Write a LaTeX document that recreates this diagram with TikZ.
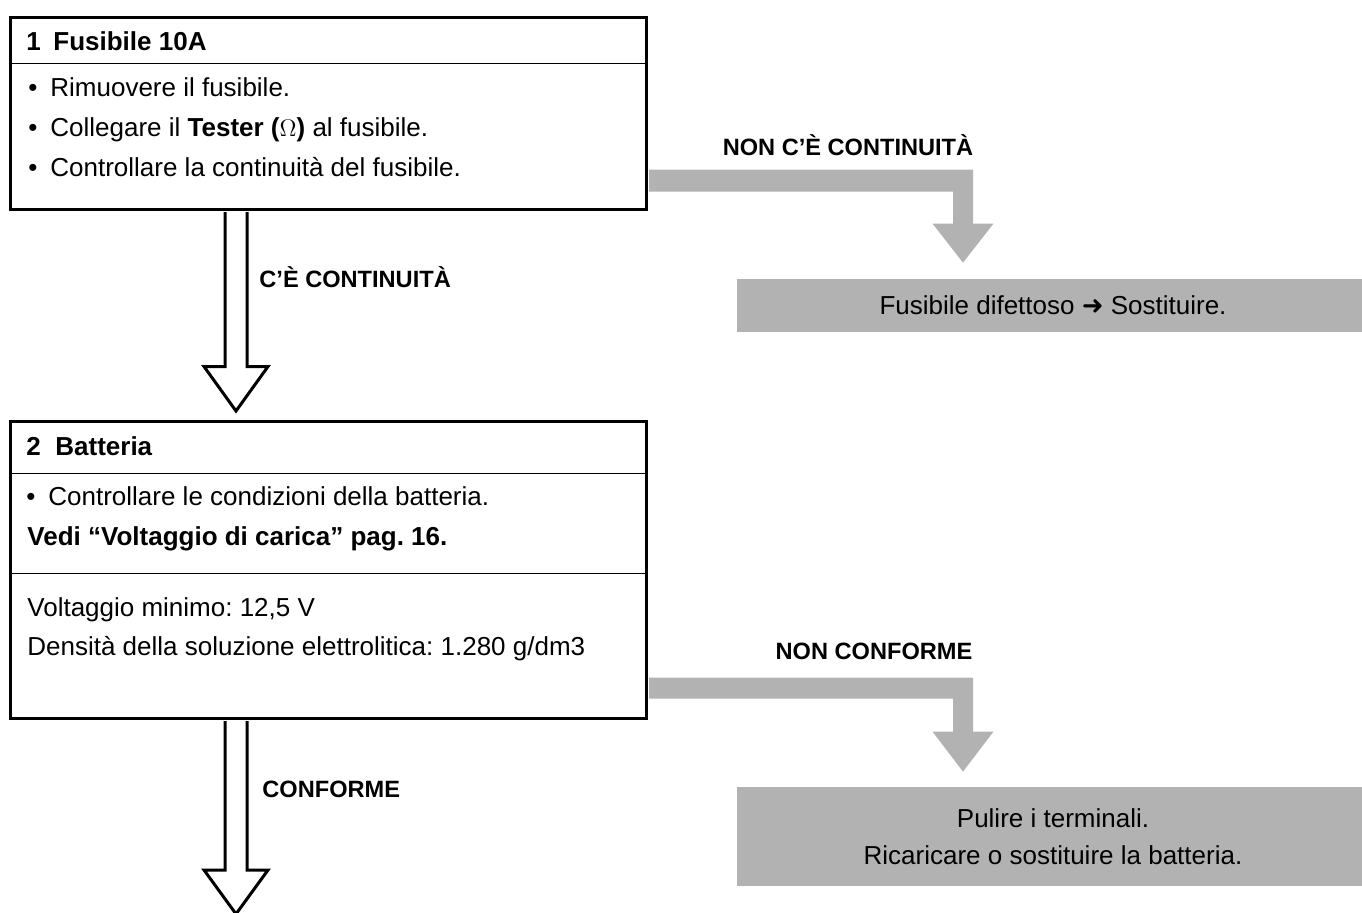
\documentclass[tikz,border=0pt]{standalone}
\usepackage{fontspec}
\setmainfont{Liberation Sans}
\newfontfamily\dingfont{DejaVu Sans}
\usetikzlibrary{calc}
\frenchspacing
\definecolor{grigio}{RGB}{178,178,178}
\newcommand\itm{\makebox[11pt][l]{•}}
\tikzset{box/.style={draw,line width=1.5pt,minimum width=318pt,inner sep=0pt},
  sep/.style={line width=0.6pt},
  txt/.style={anchor=base west,inner sep=0pt,font=\fontsize{13}{15}\selectfont},
  hdr/.style={anchor=base west,inner sep=0pt,font=\fontsize{13}{15}\selectfont\bfseries},
  lbl/.style={anchor=base,inner sep=0pt,font=\fontsize{11.8}{14}\selectfont\bfseries},
  res/.style={fill=grigio,minimum width=316pt,inner sep=0pt,align=center,font=\fontsize{13}{18.5}\selectfont},
  hollow/.style={draw,fill=white,line width=1.5pt,line join=miter}}

\begin{document}
\begin{tikzpicture}[x=0.5pt,y=-0.5pt]
              \useasboundingbox (0,0) rectangle (1362,912);

              \node[box,minimum height=96pt] (f1) at (328,113) {};
              \draw[sep] ([yshift=-24pt]f1.north west) -- ([yshift=-24pt]f1.north east);
              \node[hdr] (f1n) at (26,50) {1};
              \node[hdr] (f1t) at (53,50) {Fusibile 10A};
              \node[txt] (f1a) at (28,96) {\itm Rimuovere il fusibile.};
              \node[txt] (f1b) at (28,136) {\itm Collegare il \textbf{Tester (}$\Omega$\textbf{)} al fusibile.};
              \node[txt] (f1c) at (28,176) {\itm Controllare la continuità del fusibile.};

              \node[box,minimum height=148.5pt] (b2) at (328,569.5) {};
              \draw[sep] ([yshift=-27pt]b2.north west) -- ([yshift=-27pt]b2.north east);
              \draw[sep] ([yshift=-77pt]b2.north west) -- ([yshift=-77pt]b2.north east);
              \node[hdr] (b2n) at (26,455) {2};
              \node[hdr] (b2t) at (55,455) {Batteria};
              \node[txt] (b2a) at (26,505) {\itm Controllare le condizioni della batteria.};
              \node[txt,font=\fontsize{13}{15}\selectfont\bfseries] (b2b) at (27,545) {Vedi “Voltaggio di carica” pag. 16.};
              \node[txt] (b2c) at (27,616) {Voltaggio minimo: 12,5 V};
              \node[txt] (b2d) at (27,655) {Densità della soluzione elettrolitica: 1.280 g/dm3};

              \node[res,minimum height=26.5pt] (r1) at (1053,305.5) {Fusibile difettoso {\dingfont ➜} Sostituire.};
              \node[res,minimum height=49.5pt] (r2) at (1053,836.5) {Pulire i terminali.\\Ricaricare o sostituire la batteria.};

              \coordinate (ax) at (236,0);
              \coordinate (gx) at (963,0);
              \coordinate (fine) at (236,914);

              \draw[hollow] let \p1=(f1.south), \p2=(b2.north), \p3=(ax) in
                (\x3-5.5pt,\y1-0.8pt) -- (\x3-5.5pt,\y2+26.5pt) -- (\x3-16pt,\y2+26.5pt) -- (\x3,\y2+4.25pt)
                -- (\x3+16pt,\y2+26.5pt) -- (\x3+5.5pt,\y2+26.5pt) -- (\x3+5.5pt,\y1-0.8pt);
              \draw[hollow] let \p1=(b2.south), \p2=(fine), \p3=(ax) in
                (\x3-5.5pt,\y1-0.8pt) -- (\x3-5.5pt,\y2+22pt) -- (\x3-16pt,\y2+22pt) -- (\x3,\y2)
                -- (\x3+16pt,\y2+22pt) -- (\x3+5.5pt,\y2+22pt) -- (\x3+5.5pt,\y1-0.8pt);

              \fill[grigio] let \p1=(f1.south east), \p2=(r1.north), \p3=(gx) in
                (\x1+0.75pt,\y1+20.5pt) -- (\x3+5pt,\y1+20.5pt) -- (\x3+5pt,\y2+27.5pt) -- (\x3+15.25pt,\y2+27.5pt)
                -- (\x3,\y2+8pt) -- (\x3-15.25pt,\y2+27.5pt) -- (\x3-5pt,\y2+27.5pt) -- (\x3-5pt,\y1+9.5pt)
                -- (\x1+0.75pt,\y1+9.5pt) -- cycle;
              \fill[grigio] let \p1=(b2.south east), \p2=(r2.north), \p3=(gx) in
                (\x1+0.75pt,\y1+21pt) -- (\x3+5pt,\y1+21pt) -- (\x3+5pt,\y2+27.5pt) -- (\x3+15.25pt,\y2+27.5pt)
                -- (\x3,\y2+7.5pt) -- (\x3-15.25pt,\y2+27.5pt) -- (\x3-5pt,\y2+27.5pt) -- (\x3-5pt,\y1+10.5pt)
                -- (\x1+0.75pt,\y1+10.5pt) -- cycle;

              \node[lbl] (l1) at (848,155) {NON C’È CONTINUITÀ};
              \node[lbl,anchor=base west] (l2) at (259,287) {C’È CONTINUITÀ};
              \node[lbl] (l3) at (874,659) {NON CONFORME};
              \node[lbl,anchor=base west] (l4) at (262,797) {CONFORME};
            \end{tikzpicture}
\end{document}
